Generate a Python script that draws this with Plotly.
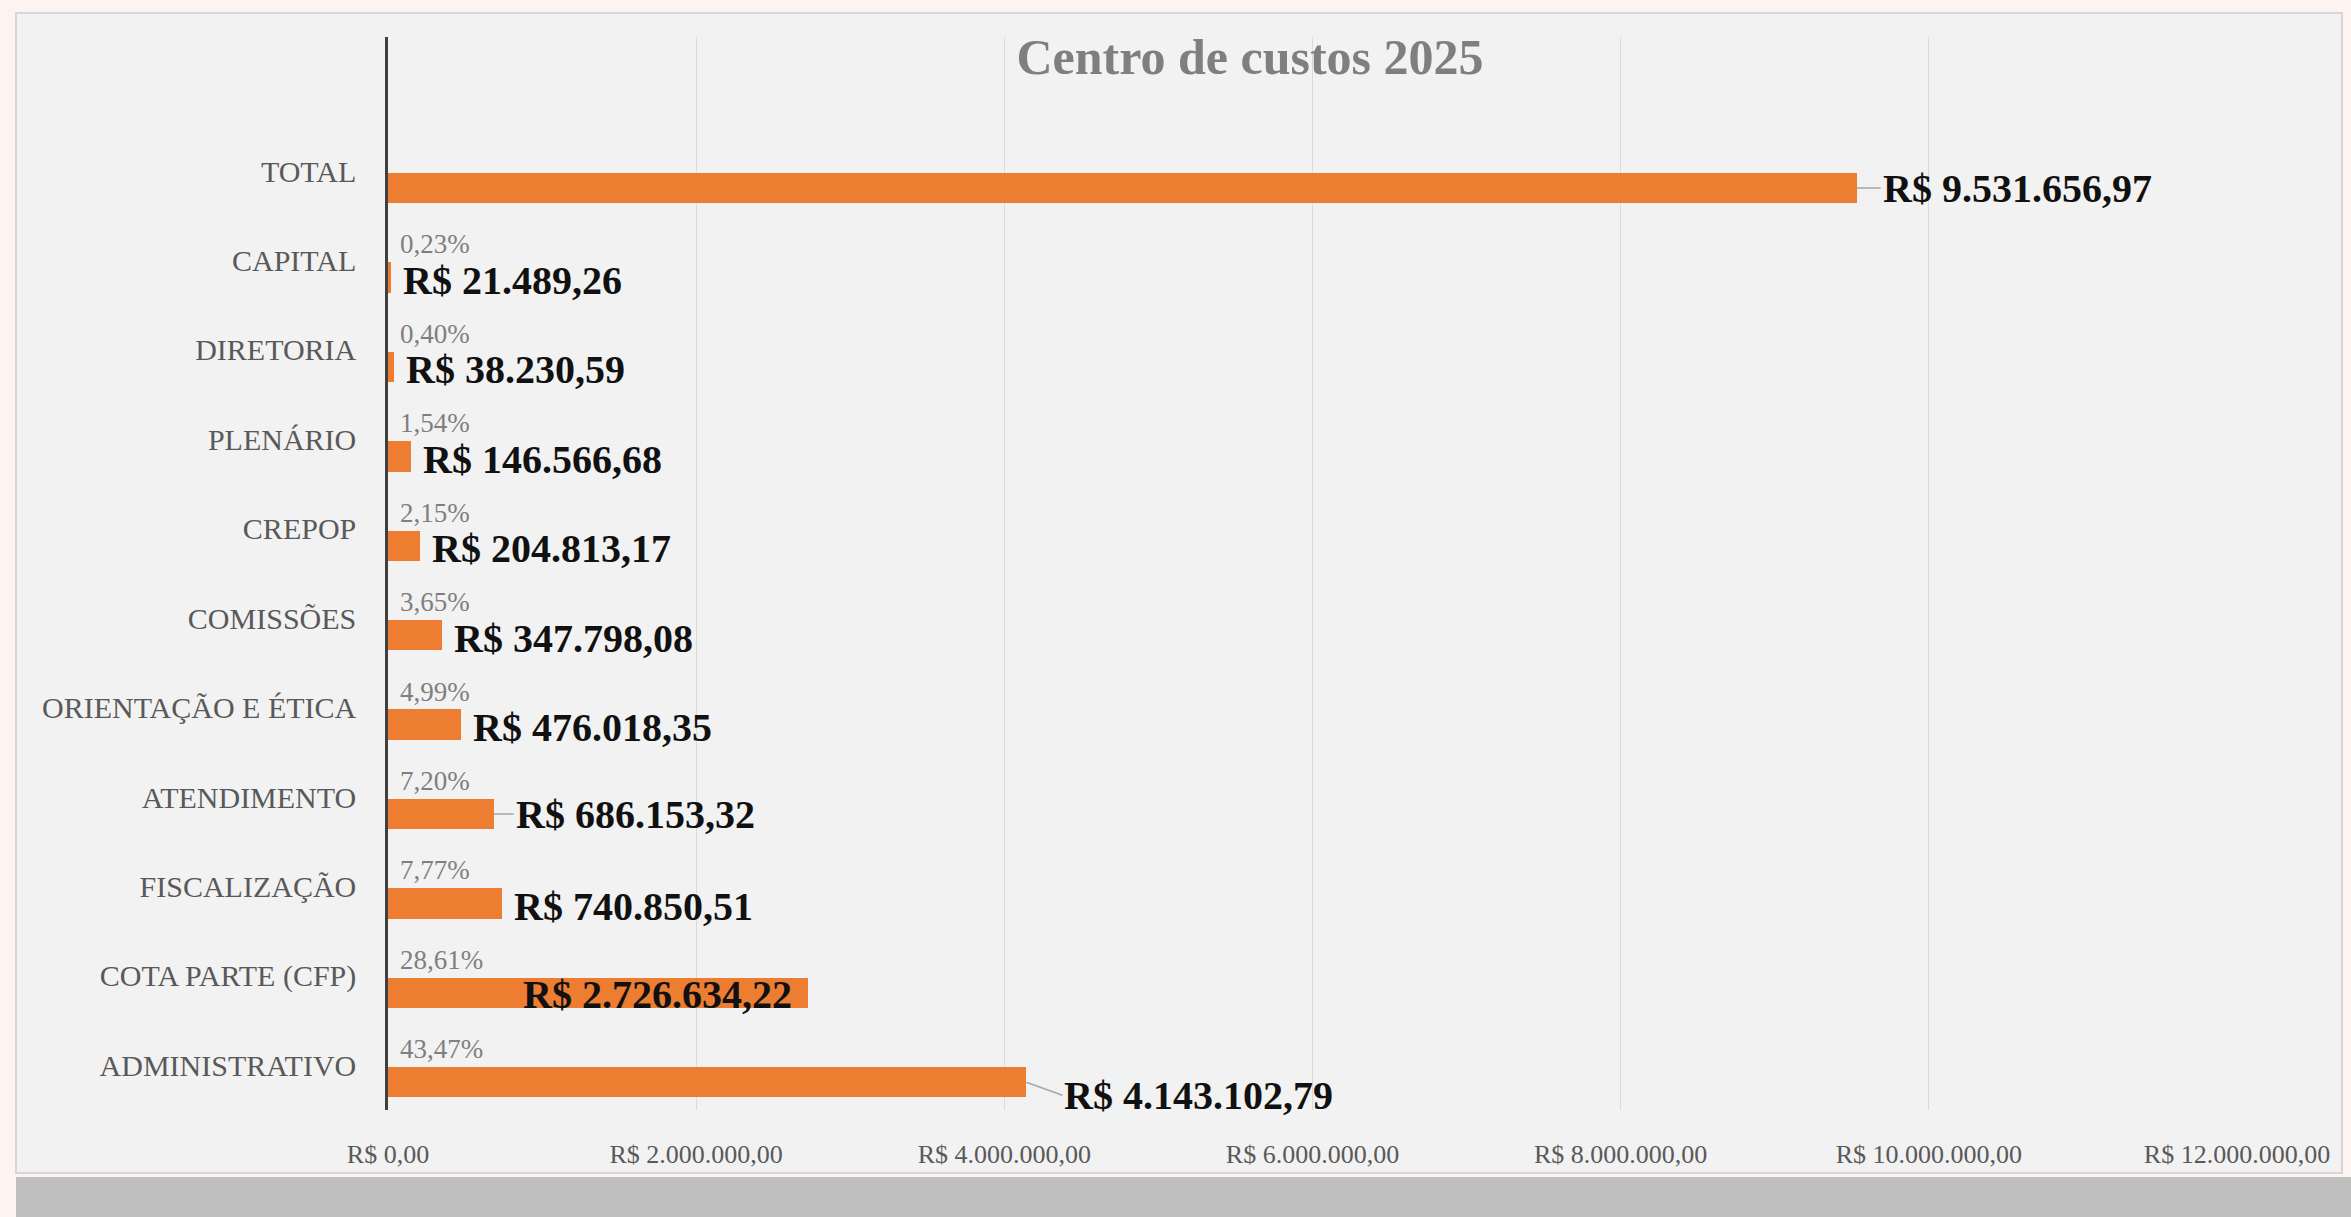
import plotly.graph_objects as go

# ---- data (bottom to top, as drawn) ----
categories = [
    "ADMINISTRATIVO", "COTA PARTE (CFP)", "FISCALIZAÇÃO", "ATENDIMENTO",
    "ORIENTAÇÃO E ÉTICA", "COMISSÕES", "CREPOP", "PLENÁRIO",
    "DIRETORIA", "CAPITAL", "TOTAL",
]
values = [
    4143102.79, 2726634.22, 740850.51, 686153.32,
    476018.35, 347798.08, 204813.17, 146566.68,
    38230.59, 21489.26, 9531656.97,
]
total_name = "TOTAL"
x_tick_values = [0, 2000000, 4000000, 6000000, 8000000, 10000000, 12000000]
x_tick_labels = ["R$ 0,00", "R$ 2.000.000,00", "R$ 4.000.000,00", "R$ 6.000.000,00",
                 "R$ 8.000.000,00", "R$ 10.000.000,00", "R$ 12.000.000,00"]
title_text = "Centro de custos 2025"

# ---- helpers ----
def brl(v):
    s = f"{v:,.2f}"
    return "R$ " + s.replace(",", "X").replace(".", ",").replace("X", ".")

def pct(v, tot):
    return f"{v / tot * 100:.2f}%".replace(".", ",")

total_value = values[categories.index(total_name)]
idx = list(range(len(categories)))

W, H = 2351, 1217
L, R, T, B = 388, 2237, 37, 1110
pw, ph = R - L, B - T

FONT = "Liberation Serif, Times New Roman, serif"
ORANGE = "#ED7D31"

BAR_W = 0.34
BAR_OFF = -0.36
bar_center = BAR_OFF + BAR_W / 2
pct_off = 0.18

fig = go.Figure()
fig.add_trace(go.Bar(
    x=values, y=idx, orientation="h",
    width=BAR_W, offset=BAR_OFF,
    marker=dict(color=ORANGE, line=dict(width=0)),
    hoverinfo="skip", showlegend=False,
))

annotations = []
leaders = {"TOTAL": (24, 0), "ATENDIMENTO": (20, 0), "ADMINISTRATIVO": (36, 13)}
for i, (c, v) in enumerate(zip(categories, values)):
    # percentage labels
    if c != total_name:
        annotations.append(dict(
            x=0, y=i + pct_off, xref="x", yref="y", text=pct(v, total_value),
            showarrow=False, xanchor="left", yanchor="middle", xshift=10,
            font=dict(family=FONT, size=27, color="#7f7f7f"),
        ))
    # value labels
    vfont = dict(family=FONT, size=40, color="#111111")
    if c == "COTA PARTE (CFP)":
        annotations.append(dict(
            x=v, y=i + bar_center, xref="x", yref="y", text="<b>" + brl(v) + "</b>",
            showarrow=False, xanchor="right", yanchor="middle", xshift=-14, yshift=-2,
            font=vfont,
        ))
    elif c in leaders:
        ax, ay = leaders[c]
        annotations.append(dict(
            x=v, y=i + bar_center, xref="x", yref="y", text="<b>" + brl(v) + "</b>",
            showarrow=True, arrowhead=0, arrowwidth=1.5, arrowcolor="#a6a6a6",
            ax=ax, ay=ay, axref="pixel", ayref="pixel",
            xanchor="left", yanchor="middle", standoff=0, startstandoff=0,
            font=vfont,
        ))
    else:
        annotations.append(dict(
            x=v, y=i + bar_center, xref="x", yref="y", text="<b>" + brl(v) + "</b>",
            showarrow=False, xanchor="left", yanchor="middle", xshift=10, yshift=-3,
            font=vfont,
        ))

def px_x(p):
    return (p - L) / pw

def px_y(p):
    return (B - p) / ph

shapes = [
    dict(type="rect", xref="paper", yref="paper", layer="below",
         x0=px_x(16), x1=px_x(2342), y0=px_y(1173), y1=px_y(13),
         fillcolor="#f2f2f2", line=dict(color="#d6d6d6", width=2)),
    dict(type="rect", xref="paper", yref="paper", layer="below",
         x0=px_x(16), x1=px_x(2351), y0=px_y(1217), y1=px_y(1177),
         fillcolor="#bfbfbf", line=dict(width=0)),
]

fig.update_layout(
    width=W, height=H,
    margin=dict(l=L, r=W - R, t=T, b=H - B, pad=0),
    paper_bgcolor="#fdf4f1",
    plot_bgcolor="#f2f2f2",
    title=dict(text="<b>" + title_text + "</b>", x=1250 / W, xanchor="center",
               y=1 - 56 / H, yanchor="middle",
               font=dict(family=FONT, size=50, color="#7f7f7f")),
    xaxis=dict(range=[0, 12000000], tickvals=x_tick_values, ticktext=x_tick_labels,
               showgrid=True, gridcolor="#dadada", gridwidth=1.2, zeroline=False,
               showline=False, ticks="", ticklabelstandoff=26,
               tickfont=dict(family=FONT, size=26, color="#595959")),
    yaxis=dict(range=[-0.5, len(categories) + 0.5], tickvals=idx, ticktext=categories,
               showgrid=False, zeroline=False, showline=True, linecolor="#404040",
               linewidth=2.5, ticks="", ticklabelstandoff=23,
               tickfont=dict(family=FONT, size=30, color="#595959")),
    annotations=annotations,
    shapes=shapes,
    bargap=0,
)

fig.write_html("out.html", config={"displayModeBar": False},
               post_script="document.body.style.margin='0';document.body.style.background='#fdf4f1';")
